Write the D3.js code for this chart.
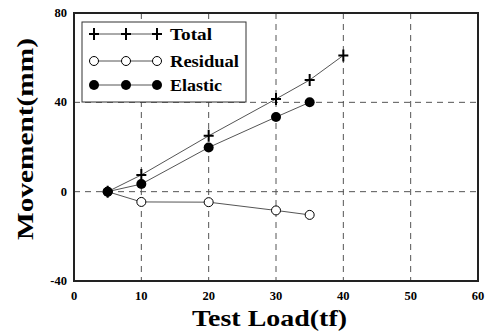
<!DOCTYPE html>
<html>
<head>
<meta charset="utf-8">
<script src="https://cdn.jsdelivr.net/npm/d3@7"></script>
<style>
  body { margin: 0; background: #fff; }
  text { font-family: "Liberation Serif", "Times New Roman", serif; font-weight: bold; }
</style>
</head>
<body>
<svg></svg>
<script>
// ====== Données ====== //
const loadTotal = [5, 10, 20, 30, 35, 40];
const valTotal = [0, 7.5, 25, 41.5, 50, 61];
const loadResidual = [5, 10, 20, 30, 35];
const valResidual = [0, -4.6, -4.7, -8.4, -10.4];
const loadElastic = [5, 10, 20, 30, 35];
const valElastic = [0, 3.4, 19.8, 33.4, 40];
const xTicks = [0, 10, 20, 30, 40, 50, 60];
const yTicks = [-40, 0, 40, 80];
const legendLabels = ["Total", "Residual", "Elastic"];

const width = 488, height = 336;
const margin = { top: 13, right: 10, bottom: 55, left: 74 };

const svg = d3.select('svg')
  .attr('width', width)
  .attr('height', height);

const x = d3.scaleLinear().domain([0, 60]).range([margin.left, width - margin.right]);
const y = d3.scaleLinear().domain([-40, 80]).range([height - margin.bottom, margin.top]);

// grille pointillée
svg.selectAll(".vgrid").data([10, 20, 30, 40, 50]).enter()
  .append("line")
  .attr("x1", d => x(d)).attr("x2", d => x(d))
  .attr("y1", y(80)).attr("y2", y(-40))
  .attr("stroke", "#555").attr("stroke-width", 1)
  .attr("stroke-dasharray", "6,5");
svg.selectAll(".hgrid").data([0, 40]).enter()
  .append("line")
  .attr("x1", x(0)).attr("x2", x(60))
  .attr("y1", d => y(d)).attr("y2", d => y(d))
  .attr("stroke", "#555").attr("stroke-width", 1)
  .attr("stroke-dasharray", "6,5");

// cadre
svg.append("rect")
  .attr("x", x(0)).attr("y", y(80))
  .attr("width", x(60) - x(0)).attr("height", y(-40) - y(80))
  .attr("fill", "none").attr("stroke", "#222").attr("stroke-width", 2);

// ticks labels
svg.selectAll(".xt").data(xTicks).enter()
  .append("text")
  .attr("x", d => x(d)).attr("y", y(-40) + 19)
  .attr("text-anchor", "middle").attr("font-size", 12.5)
  .text(d => d);
svg.selectAll(".yt").data(yTicks).enter()
  .append("text")
  .attr("x", x(0) - 7).attr("y", d => y(d) + 4)
  .attr("text-anchor", "end").attr("font-size", 12.5)
  .text(d => d);

// titres des axes
svg.append("text")
  .attr("x", 192).attr("y", 326)
  .attr("font-size", 24)
  .attr("textLength", 155).attr("lengthAdjust", "spacingAndGlyphs")
  .text("Test Load(tf)");
svg.append("text")
  .attr("transform", `translate(33,240) rotate(-90)`)
  .attr("font-size", 24)
  .attr("textLength", 202).attr("lengthAdjust", "spacingAndGlyphs")
  .text("Movement(mm)");

const line = d3.line().x(d => x(d[0])).y(d => y(d[1]));
const series = [
  { name: "Total", pts: d3.zip(loadTotal, valTotal), type: "plus" },
  { name: "Residual", pts: d3.zip(loadResidual, valResidual), type: "open" },
  { name: "Elastic", pts: d3.zip(loadElastic, valElastic), type: "filled" }
];

function drawMarker(g, type, cx, cy) {
  if (type === "plus") {
    g.append("path")
      .attr("d", `M${cx - 5},${cy}H${cx + 5}M${cx},${cy - 6}V${cy + 6}`)
      .attr("stroke", "#000").attr("stroke-width", 2).attr("fill", "none");
  } else if (type === "open") {
    g.append("circle").attr("cx", cx).attr("cy", cy).attr("r", 4.5)
      .attr("fill", "#fff").attr("stroke", "#000").attr("stroke-width", 1);
  } else {
    g.append("circle").attr("cx", cx).attr("cy", cy).attr("r", 5)
      .attr("fill", "#000");
  }
}

series.forEach(s => {
  svg.append("path")
    .attr("d", line(s.pts))
    .attr("fill", "none").attr("stroke", "#555").attr("stroke-width", 1);
});
series.forEach(s => {
  const g = svg.append("g");
  s.pts.forEach(p => drawMarker(g, s.type, x(p[0]), y(p[1])));
});

// légende
const leg = svg.append("g");
leg.append("rect")
  .attr("x", 82).attr("y", 22).attr("width", 164).attr("height", 80)
  .attr("fill", "#fff").attr("stroke", "#333").attr("stroke-width", 1);
const legY = [34, 61, 85];
const legW = [42, 69, 52];
series.forEach((s, i) => {
  leg.append("line")
    .attr("x1", 94).attr("x2", 157)
    .attr("y1", legY[i]).attr("y2", legY[i])
    .attr("stroke", "#555").attr("stroke-width", 1);
  [94, 126, 157].forEach(px => drawMarker(leg, s.type, px, legY[i]));
  leg.append("text")
    .attr("x", 170).attr("y", legY[i] + 5.5)
    .attr("font-size", 16)
    .attr("textLength", legW[i]).attr("lengthAdjust", "spacingAndGlyphs")
    .text(legendLabels[i]);
});
</script>
</body>
</html>
